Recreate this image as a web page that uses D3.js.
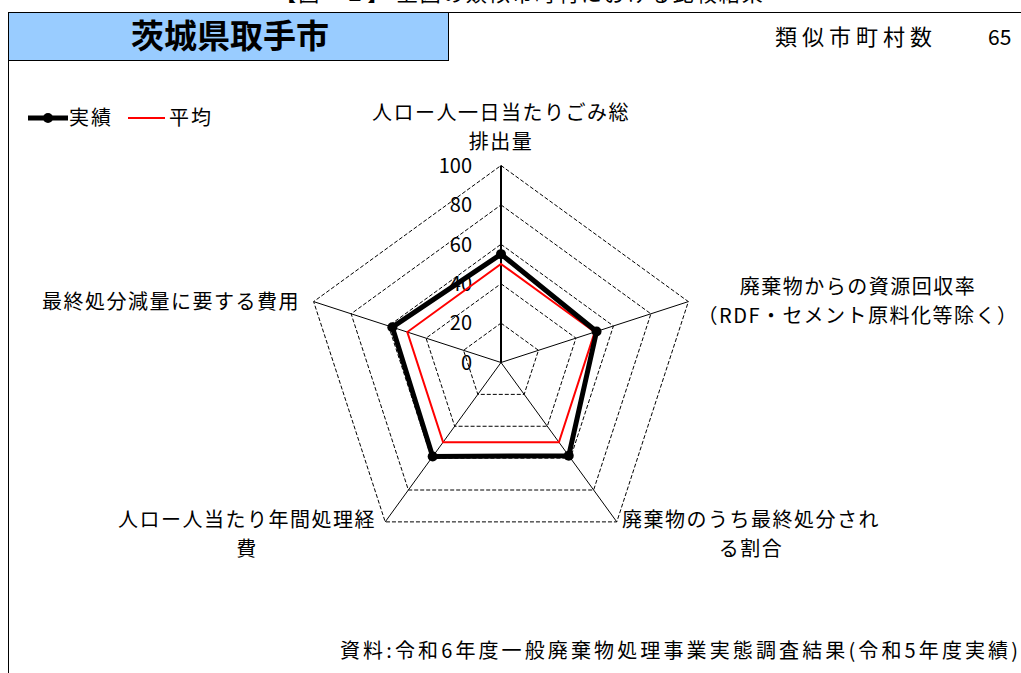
<!DOCTYPE HTML>
<html>
<head>
<meta charset="utf-8">
<title>茨城県取手市</title>
<script src="https://d3js.org/d3.v7.min.js"></script>
<style>
body { margin: 0; background: #ffffff; }
text { font-family: "Noto Sans CJK JP", "Noto Sans", sans-serif; fill: #000000; }
</style>
</head>

<body>
<script>

"use strict";

const categories = [
  ["人ロー人一日当たりごみ総", "排出量"],
  ["廃棄物からの資源回収率", "（RDF・セメント原料化等除く）"],
  ["廃棄物のうち最終処分され", "る割合"],
  ["人ロー人当たり年間処理経", "費"],
  ["最終処分減量に要する費用"]
];
const actual = [55, 51, 58.5, 59, 58];
const average = [50, 50, 50, 50, 50];
const ticks = [0, 20, 40, 60, 80, 100];

const width = 1021, height = 673;
const cx = 501, cy = 362.5, R = 197;

const svg = d3.select("body").append("svg")
  .attr("width", width)
  .attr("height", height);

// header (top line is cut off by the page edge, as in the original)
svg.append("text")
  .attr("x", 520).attr("y", 1)
  .attr("text-anchor", "middle")
  .attr("font-size", 21)
  .attr("letter-spacing", 2)
  .attr("fill", "#333333")
  .text("【図ー１】 上図の類似市町村における比較結果");

svg.append("line")
  .attr("x1", 8).attr("y1", 12.5).attr("x2", width).attr("y2", 12.5)
  .attr("stroke", "#000000");
svg.append("line")
  .attr("x1", 8.5).attr("y1", 12).attr("x2", 8.5).attr("y2", height)
  .attr("stroke", "#000000");
svg.append("rect")
  .attr("x", 8.5).attr("y", 12.5).attr("width", 440).attr("height", 48)
  .attr("fill", "#99ccff").attr("stroke", "#000000");
svg.append("text")
  .attr("x", 230).attr("y", 48)
  .attr("text-anchor", "middle")
  .attr("font-size", 33).attr("font-weight", "bold")
  .text("茨城県取手市");
svg.append("text")
  .attr("x", 775).attr("y", 45)
  .attr("font-size", 22)
  .attr("letter-spacing", 5)
  .text("類似市町村数");
svg.append("text")
  .attr("x", 988).attr("y", 45)
  .attr("font-size", 21)
  .text("65");

// radar
const n = categories.length;
const angle = d3.scaleLinear().domain([0, n]).range([0, 2 * Math.PI]);
const r = d3.scaleLinear().domain([0, 100]).range([0, R]);
const pt = (i, v) => [cx + r(v) * Math.sin(angle(i)), cy - r(v) * Math.cos(angle(i))];

const radarLine = d3.line().curve(d3.curveLinearClosed);

const grid = svg.append("g");
grid.selectAll("path")
  .data(ticks.filter((t) => t > 0))
  .enter()
  .append("path")
  .attr("d", (t) => radarLine(d3.range(n).map((i) => pt(i, t))))
  .attr("fill", "none")
  .attr("stroke", "#000000")
  .attr("stroke-width", 1)
  .attr("stroke-dasharray", "4,2");

grid.selectAll("line")
  .data(d3.range(n))
  .enter()
  .append("line")
  .attr("x1", cx).attr("y1", cy)
  .attr("x2", (i) => pt(i, 100)[0])
  .attr("y2", (i) => pt(i, 100)[1])
  .attr("stroke", "#000000")
  .attr("stroke-width", (i) => i === 0 ? 2 : 1);

svg.append("g").selectAll("text")
  .data(ticks)
  .enter()
  .append("text")
  .attr("x", cx - 29)
  .attr("y", (t) => cy - r(t))
  .attr("dy", "0.36em")
  .attr("text-anchor", "end")
  .attr("font-size", 20)
  .text((t) => t);

svg.append("path")
  .attr("d", radarLine(average.map((v, i) => pt(i, v))))
  .attr("fill", "none")
  .attr("stroke", "#ff0000")
  .attr("stroke-width", 2);

svg.append("path")
  .attr("d", radarLine(actual.map((v, i) => pt(i, v))))
  .attr("fill", "none")
  .attr("stroke", "#000000")
  .attr("stroke-width", 5)
  .attr("stroke-linejoin", "round");

svg.append("g").selectAll("circle")
  .data(actual)
  .enter()
  .append("circle")
  .attr("cx", (v, i) => pt(i, v)[0])
  .attr("cy", (v, i) => pt(i, v)[1])
  .attr("r", 5)
  .attr("fill", "#000000");

// category labels
const labelPos = [
  {x: 501, y: 120},
  {x: 858, y: 294},
  {x: 751, y: 527},
  {x: 247, y: 527},
  {x: 171, y: 309}
];
categories.forEach((lines, i) => {
  const t = svg.append("text")
    .attr("x", labelPos[i].x)
    .attr("y", labelPos[i].y)
    .attr("text-anchor", "middle")
    .attr("font-size", 20)
    .attr("letter-spacing", 1.5);
  lines.forEach((s, j) => {
    t.append("tspan")
      .attr("x", labelPos[i].x)
      .attr("dy", j === 0 ? 0 : 29)
      .text(s);
  });
});

// legend
const legend = svg.append("g");
legend.append("line")
  .attr("x1", 28).attr("y1", 118).attr("x2", 68).attr("y2", 118)
  .attr("stroke", "#000000").attr("stroke-width", 5);
legend.append("circle")
  .attr("cx", 48).attr("cy", 118).attr("r", 5).attr("fill", "#000000");
legend.append("text")
  .attr("x", 69).attr("y", 125).attr("font-size", 20).attr("letter-spacing", 2).text("実績");
legend.append("line")
  .attr("x1", 128).attr("y1", 118).attr("x2", 165).attr("y2", 118)
  .attr("stroke", "#ff0000").attr("stroke-width", 2);
legend.append("text")
  .attr("x", 169).attr("y", 125).attr("font-size", 20).attr("letter-spacing", 2).text("平均");

// source
svg.append("text")
  .attr("x", 340).attr("y", 658)
  .attr("font-size", 20)
  .attr("textLength", 678)
  .attr("lengthAdjust", "spacing")
  .text("資料:令和6年度一般廃棄物処理事業実態調査結果(令和5年度実績)");

</script>
</body>
</html>
